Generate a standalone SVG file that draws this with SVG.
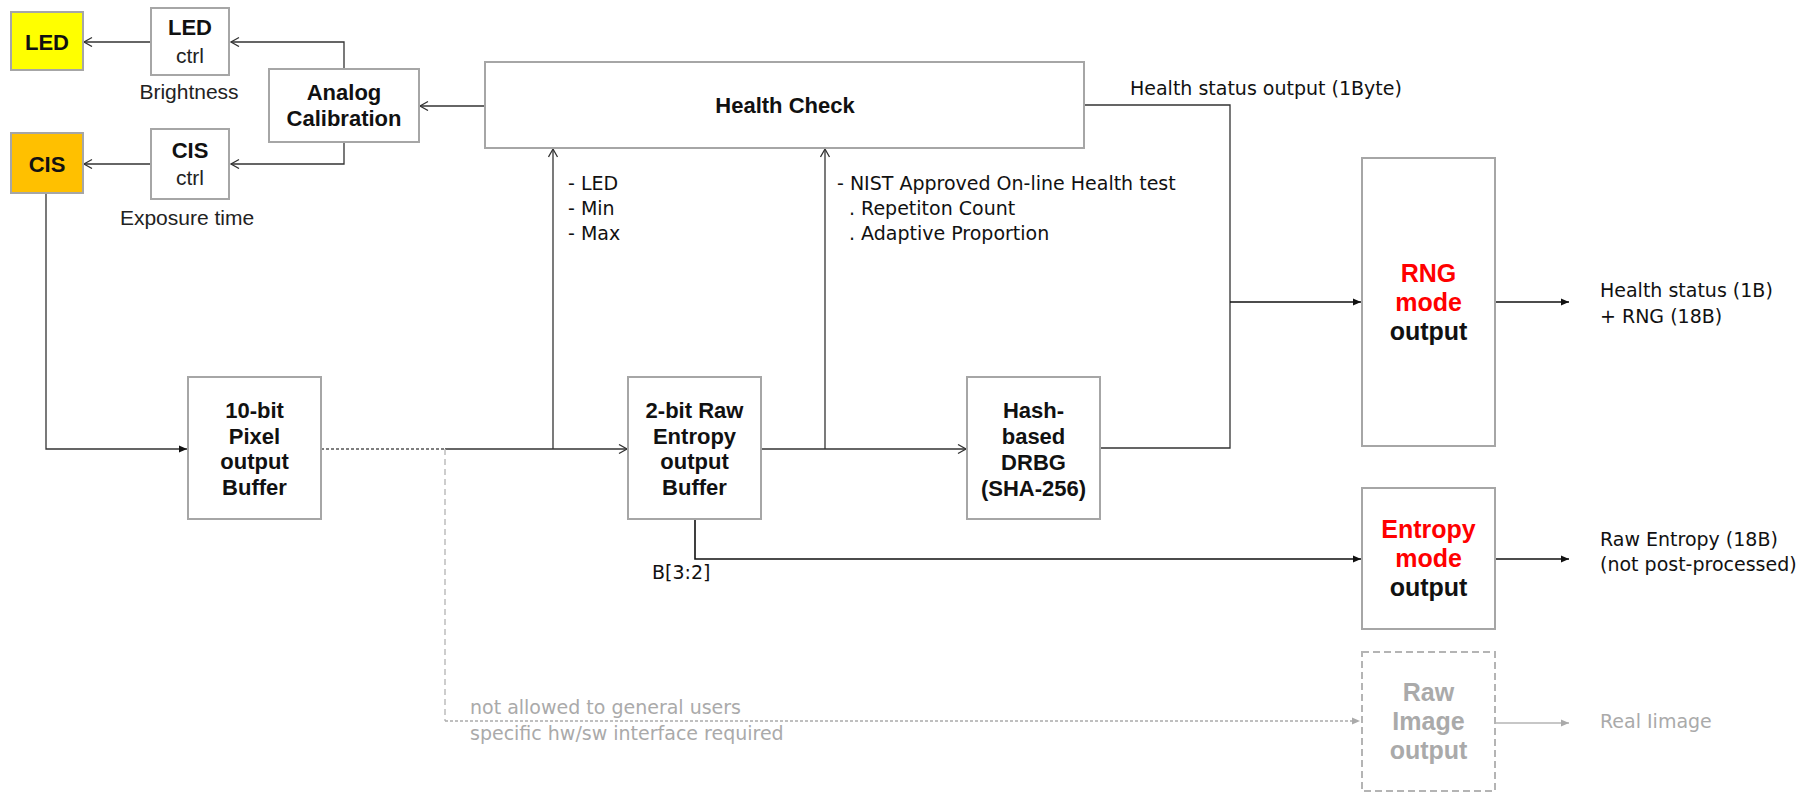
<svg xmlns="http://www.w3.org/2000/svg" width="1805" height="792" viewBox="0 0 1805 792">
  <style>
    .box { fill: #ffffff; stroke: #a6a6a6; stroke-width: 2; }
    .dbox { fill: #ffffff; stroke: #b4b4b4; stroke-width: 2; stroke-dasharray: 7 4; }
    .b { font-family: "Liberation Sans", Arial, sans-serif; font-weight: bold; font-size: 22px; fill: #111; text-anchor: middle; }
    .big { font-size: 25px; }
    .r { font-family: "Liberation Sans", Arial, sans-serif; font-size: 21px; fill: #222; text-anchor: middle; }
    .n { font-family: "DejaVu Sans", Verdana, sans-serif; font-size: 19px; fill: #111; }
    .g { fill: #aaaaaa; }
    .red { fill: #ff0000; }
    .w { fill: none; stroke: #333; stroke-width: 1.3; }
    .k { fill: none; stroke: #111; stroke-width: 1.6; }
    .gd { fill: none; stroke: #b4b4b4; stroke-width: 1.5; }
  </style>
  <defs>
    <marker id="open" markerUnits="userSpaceOnUse" markerWidth="12" markerHeight="12" refX="9" refY="5" orient="auto">
      <path d="M1,0.5 L9,5 L1,9.5" fill="none" stroke="#333" stroke-width="1.3"/>
    </marker>
    <marker id="tri" markerUnits="userSpaceOnUse" markerWidth="10" markerHeight="10" refX="8" refY="4" orient="auto">
      <path d="M0,0.5 L8,4 L0,7.5 Z" fill="#111"/>
    </marker>
    <marker id="trig" markerUnits="userSpaceOnUse" markerWidth="10" markerHeight="10" refX="8" refY="4" orient="auto">
      <path d="M0,0.5 L8,4 L0,7.5 Z" fill="#aaaaaa"/>
    </marker>
  </defs>

  <!-- connectors -->
  <g id="connectors">
    <line class="w" x1="151" y1="42" x2="84" y2="42" marker-end="url(#open)"/>
    <line class="w" x1="151" y1="164" x2="84" y2="164" marker-end="url(#open)"/>
    <path class="w" d="M344,69 V42 H231" marker-end="url(#open)"/>
    <path class="w" d="M344,142 V164 H231" marker-end="url(#open)"/>
    <line class="w" x1="485" y1="106" x2="420" y2="106" marker-end="url(#open)"/>
    <path class="w" d="M46,193 V449 H187" marker-end="url(#tri)"/>
    <!-- pixel buffer output -->
    <line x1="321" y1="449" x2="445" y2="449" stroke="#555" stroke-width="1.3" stroke-dasharray="3 2"/>
    <line class="w" x1="445" y1="449" x2="627" y2="449" marker-end="url(#open)"/>
    <line class="w" x1="553" y1="449" x2="553" y2="149" marker-end="url(#open)"/>
    <!-- raw entropy buffer output -->
    <line class="w" x1="761" y1="449" x2="966" y2="449" marker-end="url(#open)"/>
    <line class="w" x1="825" y1="449" x2="825" y2="149" marker-end="url(#open)"/>
    <path class="k" d="M695,519 V559 H1361" marker-end="url(#tri)"/>
    <!-- DRBG and health status to RNG output -->
    <path class="w" d="M1100,448 H1230 V105 H1084"/>
    <line class="k" x1="1230" y1="302" x2="1361" y2="302" marker-end="url(#tri)"/>
    <line class="k" x1="1495" y1="302" x2="1569" y2="302" marker-end="url(#tri)"/>
    <line class="k" x1="1495" y1="559" x2="1569" y2="559" marker-end="url(#tri)"/>
    <!-- restricted raw image path -->
    <line x1="445" y1="449" x2="445" y2="721" stroke="#bdbdbd" stroke-width="1.5" stroke-dasharray="6 4"/>
    <line x1="445" y1="721" x2="1360" y2="721" stroke="#aaaaaa" stroke-width="1.5" stroke-dasharray="3 2" marker-end="url(#trig)"/>
    <line class="gd" x1="1495" y1="723" x2="1569" y2="723" marker-end="url(#trig)"/>
  </g>

  <g id="led">
    <rect x="11" y="12" width="72" height="58" fill="#ffff00" stroke="#a6a6a6" stroke-width="2"/>
    <text class="b" x="47" y="50" font-size="22.5">LED</text>
  </g>
  <g id="cis">
    <rect x="11" y="133" width="72" height="60" fill="#ffc000" stroke="#a6a6a6" stroke-width="2"/>
    <text class="b" x="47" y="172" font-size="22.5">CIS</text>
  </g>
  <g id="led-ctrl">
    <rect class="box" x="151" y="8" width="78" height="67"/>
    <text class="b" x="190" y="35">LED</text>
    <text class="r" x="190" y="63">ctrl</text>
    <text class="r" x="189" y="99">Brightness</text>
  </g>
  <g id="cis-ctrl">
    <rect class="box" x="151" y="129" width="78" height="70"/>
    <text class="b" x="190" y="158">CIS</text>
    <text class="r" x="190" y="185">ctrl</text>
    <text class="r" x="187" y="225">Exposure time</text>
  </g>
  <g id="analog-calibration">
    <rect class="box" x="269" y="69" width="150" height="73"/>
    <text class="b" x="344" y="100">Analog</text>
    <text class="b" x="344" y="126">Calibration</text>
  </g>
  <g id="health-check">
    <rect class="box" x="485" y="62" width="599" height="86"/>
    <text class="b" x="785" y="113" font-size="21.5">Health Check</text>
  </g>
  <g id="labels">
    <text class="n" x="1130" y="95">Health status output (1Byte)</text>
    <text class="n" x="568" y="190">- LED</text>
    <text class="n" x="568" y="215">- Min</text>
    <text class="n" x="568" y="240">- Max</text>
    <text class="n" x="837" y="190" font-size="19.5">- NIST Approved On-line Health test</text>
    <text class="n" x="849" y="215" font-size="19.5">. Repetiton Count</text>
    <text class="n" x="849" y="240" font-size="19.5">. Adaptive Proportion</text>
    <text class="n" x="652" y="579">B[3:2]</text>
    <text class="n" x="1600" y="297">Health status (1B)</text>
    <text class="n" x="1600" y="323">+ RNG (18B)</text>
    <text class="n" x="1600" y="546">Raw Entropy (18B)</text>
    <text class="n" x="1600" y="571">(not post-processed)</text>
    <text class="n g" x="470" y="714">not allowed to general users</text>
    <text class="n g" x="470" y="740">specific hw/sw interface required</text>
    <text class="n g" x="1600" y="728">Real Iimage</text>
  </g>
  <g id="pixel-buffer">
    <rect class="box" x="188" y="377" width="133" height="142"/>
    <text class="b" x="254.5" y="418">10-bit</text>
    <text class="b" x="254.5" y="444">Pixel</text>
    <text class="b" x="254.5" y="469">output</text>
    <text class="b" x="254.5" y="495">Buffer</text>
  </g>
  <g id="raw-entropy-buffer">
    <rect class="box" x="628" y="377" width="133" height="142"/>
    <text class="b" x="694.5" y="418">2-bit Raw</text>
    <text class="b" x="694.5" y="444">Entropy</text>
    <text class="b" x="694.5" y="469">output</text>
    <text class="b" x="694.5" y="495">Buffer</text>
  </g>
  <g id="drbg">
    <rect class="box" x="967" y="377" width="133" height="142"/>
    <text class="b" x="1033.5" y="418">Hash-</text>
    <text class="b" x="1033.5" y="444">based</text>
    <text class="b" x="1033.5" y="470">DRBG</text>
    <text class="b" x="1033.5" y="496">(SHA-256)</text>
  </g>
  <g id="rng-output">
    <rect class="box" x="1362" y="158" width="133" height="288"/>
    <text class="b big red" x="1428.5" y="282">RNG</text>
    <text class="b big red" x="1428.5" y="311">mode</text>
    <text class="b big" x="1428.5" y="340">output</text>
  </g>
  <g id="entropy-output">
    <rect class="box" x="1362" y="488" width="133" height="141"/>
    <text class="b big red" x="1428.5" y="538">Entropy</text>
    <text class="b big red" x="1428.5" y="567">mode</text>
    <text class="b big" x="1428.5" y="596">output</text>
  </g>
  <g id="raw-image-output">
    <rect class="dbox" x="1362" y="652" width="133" height="139"/>
    <text class="b big g" x="1428.5" y="701">Raw</text>
    <text class="b big g" x="1428.5" y="730">Image</text>
    <text class="b big g" x="1428.5" y="759">output</text>
  </g>
</svg>
